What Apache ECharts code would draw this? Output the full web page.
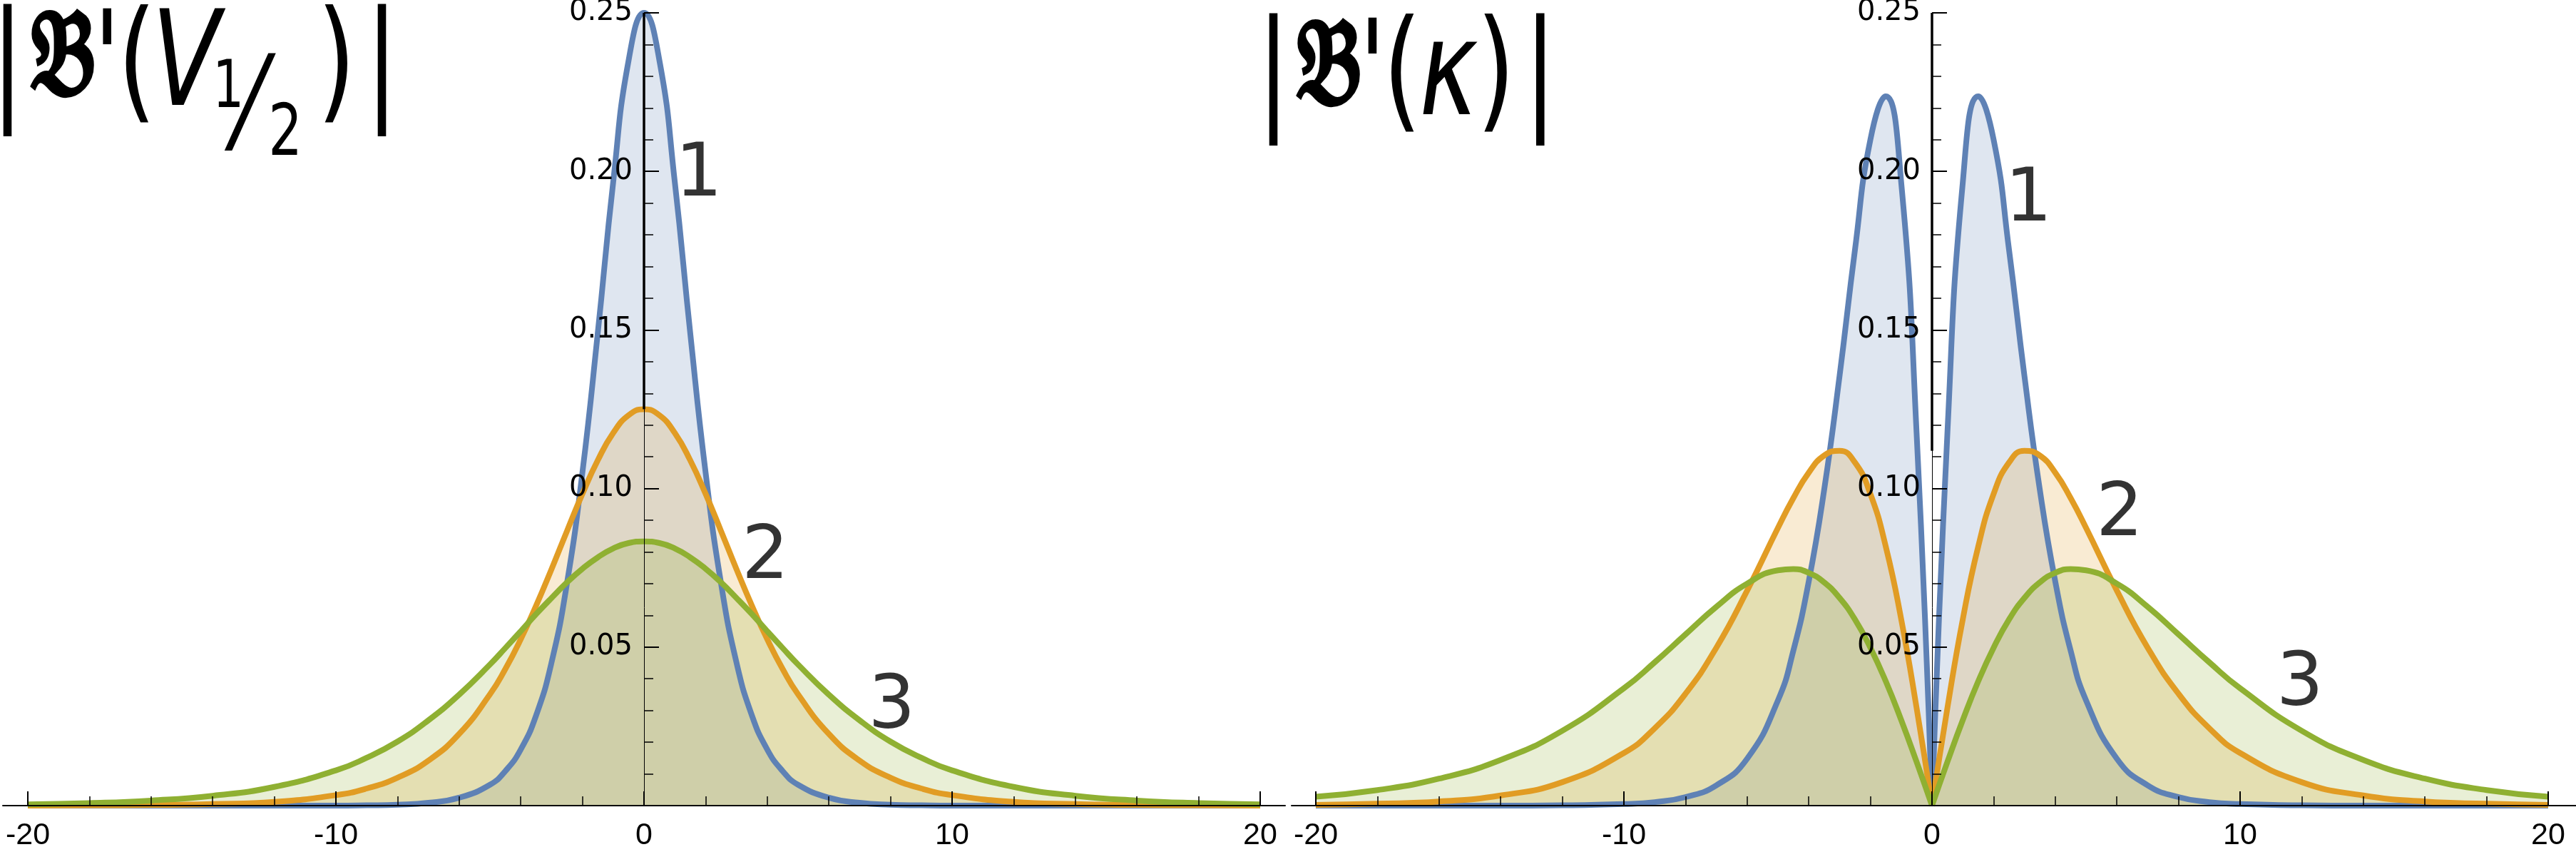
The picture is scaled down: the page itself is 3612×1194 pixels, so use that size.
<!DOCTYPE html>
<html><head><meta charset="utf-8">
<script src="https://cdn.jsdelivr.net/npm/echarts@6/dist/echarts.min.js"></script>
<style>html,body{margin:0;padding:0;background:#fff}#c{width:3612px;height:1194px}</style>
</head><body><div id="c"></div>
<script>
// ---- data ----
const xs = [-20,-18,-16,-14,-12,-10,-9,-8,-7,-6,-5,-4.5,-4,-3.5,-3,-2.5,-2,-1.5,-1,-0.5,0,0.5,1,1.5,2,2.5,3,3.5,4,4.5,5,6,7,8,9,10,12,14,16,18,20];

// left panel |B'(V1/2)|
const blueL = [0,0,0,0,0,0,0.0001,0.0003,0.0009,0.0025,0.0066,0.0109,0.0177,0.0285,0.0452,0.0701,0.1050,0.1491,0.1966,0.2350,0.2500,0.2350,0.1966,0.1491,0.1050,0.0701,0.0452,0.0285,0.0177,0.0109,0.0066,0.0025,0.0009,0.0003,0.0001,0,0,0,0,0,0];
const orangeL = [0.0000,0.0001,0.0002,0.0005,0.0012,0.0033,0.0054,0.0088,0.0142,0.0226,0.0351,0.0431,0.0525,0.0631,0.0746,0.0866,0.0983,0.1089,0.1175,0.1231,0.1250,0.1231,0.1175,0.1089,0.0983,0.0866,0.0746,0.0631,0.0525,0.0431,0.0351,0.0226,0.0142,0.0088,0.0054,0.0033,0.0012,0.0005,0.0002,0.0001,0.0000];
const greenL = [0.0004,0.0008,0.0016,0.0031,0.0059,0.0111,0.0151,0.0202,0.0269,0.0350,0.0445,0.0497,0.0550,0.0604,0.0655,0.0704,0.0747,0.0783,0.0811,0.0828,0.0833,0.0828,0.0811,0.0783,0.0747,0.0704,0.0655,0.0604,0.0550,0.0497,0.0445,0.0350,0.0269,0.0202,0.0151,0.0111,0.0059,0.0031,0.0016,0.0008,0.0004];

// right panel |B'(kappa)|
const blueR = [0,0,0,0,0.0001,0.0005,0.0011,0.0027,0.0064,0.0148,0.0332,0.0489,0.0707,0.0996,0.1355,0.1753,0.2100,0.2237,0.1966,0.1175,0,0.1175,0.1966,0.2237,0.2100,0.1753,0.1355,0.0996,0.0707,0.0489,0.0332,0.0148,0.0064,0.0027,0.0011,0.0005,0.0001,0,0,0,0];
const orangeR = [0.0002,0.0006,0.0013,0.0032,0.0074,0.0166,0.0244,0.0353,0.0498,0.0678,0.0876,0.0970,0.1050,0.1104,0.1119,0.1082,0.0983,0.0817,0.0588,0.0308,0,0.0308,0.0588,0.0817,0.0983,0.1082,0.1119,0.1104,0.1050,0.0970,0.0876,0.0678,0.0498,0.0353,0.0244,0.0166,0.0074,0.0032,0.0013,0.0006,0.0002];
const greenR = [0.0028,0.0049,0.0085,0.0144,0.0236,0.0370,0.0452,0.0540,0.0627,0.0700,0.0742,0.0746,0.0734,0.0704,0.0655,0.0587,0.0498,0.0392,0.0270,0.0138,0,0.0138,0.0270,0.0392,0.0498,0.0587,0.0655,0.0704,0.0734,0.0746,0.0742,0.0700,0.0627,0.0540,0.0452,0.0370,0.0236,0.0144,0.0085,0.0049,0.0028];

// axes
const xRange = [-20, 20];
const xTickStep = 10;
const yRange = [0, 0.25];
const yTickStep = 0.05;
const yTickLabels = ['0.05','0.10','0.15','0.20','0.25'];

// curve annotations (data coordinates)
const curveNames = ['1','2','3'];
const annotLeftX = [1.78, 3.94, 8.04];
const annotLeftY = [0.1984, 0.0779, 0.0306];
const annotRightX = [3.13, 6.09, 11.94];
const annotRightY = [0.1906, 0.0914, 0.0378];

// ---- styles ----
const COLORS = ['#5E81B5', '#E19C24', '#8FB032'];
const LINE_W = 8;

function pts(ys, from, to) {
  const out = [];
  for (let i = from; i <= to; i++) out.push([xs[i], ys[i]]);
  return out;
}
const zeroIdx = xs.indexOf(0);
const lastIdx = xs.length - 1;

const series = [];
function addCurve(ys, color, gi, split) {
  const parts = split ? [[0, zeroIdx], [zeroIdx, lastIdx]] : [[0, lastIdx]];
  parts.forEach(([a, b]) => {
    series.push({type:'line', xAxisIndex:gi, yAxisIndex:gi, data:pts(ys, a, b), smooth:0.5, symbol:'none',
      silent:true, z:2, lineStyle:{width:0, opacity:0}, areaStyle:{color:color, opacity:0.2}});
  });
  parts.forEach(([a, b]) => {
    series.push({type:'line', xAxisIndex:gi, yAxisIndex:gi, data:pts(ys, a, b), smooth:0.5, symbol:'none',
      silent:true, z:4, lineStyle:{width:LINE_W, color:color, cap:'butt', join:'round'}});
  });
}
[blueL, orangeL, greenL].forEach((ys, k) => addCurve(ys, COLORS[k], 0, false));
[blueR, orangeR, greenR].forEach((ys, k) => addCurve(ys, COLORS[k], 1, true));

// thick part of the vertical axis (above the orange peak)
function thickAxis(gi, ys) {
  series.push({type:'line', xAxisIndex:gi, yAxisIndex:gi, data:[], silent:true, z:5,
    markLine:{silent:true, symbol:['none','none'], label:{show:false},
      lineStyle:{color:'#000', width:3.5, type:'solid'},
      data:[[{coord:[0, Math.max(...ys)]}, {coord:[0, yRange[1]]}]]}});
}
thickAxis(0, orangeL);
thickAxis(1, orangeR);

// curve number annotations
function annot(gi, X, Y) {
  series.push({type:'scatter', xAxisIndex:gi, yAxisIndex:gi, z:6, silent:true,
    symbolSize:1, itemStyle:{color:'rgba(0,0,0,0)'},
    data: X.map((x, i) => [x, Y[i], curveNames[i]]),
    label:{show:true, position:'inside', formatter:p => p.data[2],
      fontFamily:'DejaVu Sans', fontSize:104, color:'#000', textBorderWidth:0}});
}
annot(0, annotLeftX, annotLeftY);
annot(1, annotRightX, annotRightY);

const GRID_TOP = 18, GRID_H = 1111;
const grids = [
  {left:39, width:1728},     // 0 left panel plot
  {left:1845, width:1728},   // 1 right panel plot
  {left:4, width:1798},      // 2 left horizontal axis line
  {left:1811, width:1801},   // 3 right horizontal axis line
  {left:903, width:864},     // 4 left vertical axis (at x = 0)
  {left:2709, width:864}     // 5 right vertical axis (at x = 0)
].map(g => Object.assign(g, {top:GRID_TOP, height:GRID_H, containLabel:false, outerBoundsMode:'none'}));

function mainX(gi) {
  return {gridIndex:gi, type:'value', min:xRange[0], max:xRange[1], interval:xTickStep, z:10,
    axisLine:{show:false, onZero:false},
    axisTick:{show:true, inside:true, length:20, lineStyle:{color:'#000', width:2}},
    minorTick:{show:true, splitNumber:5, length:13, lineStyle:{color:'#000', width:1.5}},
    splitLine:{show:false}, minorSplitLine:{show:false},
    axisLabel:{show:true, fontFamily:'Liberation Sans', fontSize:43, color:'#000', margin:21}};
}
function scaleY(gi) {
  return {gridIndex:gi, type:'value', min:yRange[0], max:yRange[1], show:false, splitLine:{show:false}};
}
function visibleY(gi) {
  return {gridIndex:gi, type:'value', min:yRange[0], max:yRange[1], interval:yTickStep, z:10,
    position:'left',
    axisLine:{show:true, onZero:false, lineStyle:{color:'#000', width:1}},
    axisTick:{show:true, inside:true, length:21, lineStyle:{color:'#000', width:2}},
    minorTick:{show:true, splitNumber:5, length:13, lineStyle:{color:'#000', width:1.5}},
    splitLine:{show:false}, minorSplitLine:{show:false},
    axisLabel:{show:true, fontFamily:'DejaVu Sans', fontSize:40, color:'#000', margin:16,
      formatter: v => { const i = Math.round(v / yTickStep) - 1; return i >= 0 ? yTickLabels[i] : ''; }}};
}
function lineOnlyX(gi) {
  return {gridIndex:gi, type:'value', min:0, max:1, z:9,
    axisLine:{show:true, onZero:false, lineStyle:{color:'#000', width:2}},
    axisTick:{show:false}, axisLabel:{show:false}, splitLine:{show:false}};
}
function hiddenX(gi) {
  return {gridIndex:gi, type:'value', min:0, max:1, show:false, splitLine:{show:false}};
}
function hiddenY(gi) {
  return {gridIndex:gi, type:'value', min:0, max:1, show:false, splitLine:{show:false}};
}

// ---- titles (rich text, squeezed horizontally) ----
const FONT = "'DejaVu Sans'";
const TSIZE = 186;
const TSCALE = 0.75;
function tok(extra) { return Object.assign({fontFamily:FONT, fontSize:TSIZE, lineHeight:TSIZE, fill:'#000'}, extra); }
const frakFont = "'DejaVu Serif', 'DejaVu Sans', 'Noto Sans', serif";
const frakTok = {width:117, fontFamily:frakFont, fontSize:168, fontWeight:'bold',
  stroke:'#000', lineWidth:3, padding:[0,0,22,0]};

const titleLeft = {
  type:'text', x:-13, y:6, scaleX:TSCALE, z:20, silent:true,
  style:{
    text:"{b||}{f|𝔅}{q|'}{p|(}{v|V}{n|1}{s|⁄}{d|2}{r|)}{c||}",
    align:'left', verticalAlign:'top', lineHeight:TSIZE,
    rich:{
      b: tok({width:75}),
      f: tok(frakTok),
      q: tok({width:45}),
      p: tok({width:64}),
      v: tok({width:114, fontStyle:'italic'}),
      n: tok({width:55, fontSize:92, padding:[55,0,0,0]}),
      s: tok({width:49, fontSize:180, padding:[125,0,0,0]}),
      d: tok({width:91, fontSize:100, padding:[185,0,0,0]}),
      r: tok({width:90}),
      c: tok({width:63})
    }
  }
};
const titleRight = {
  type:'text', x:1762, y:19, scaleX:TSCALE, z:20, silent:true,
  style:{
    text:"{b||}{f|𝔅}{q|'}{p|(}{k|κ}{r|)}{c||}",
    align:'left', verticalAlign:'top', lineHeight:TSIZE,
    rich:{
      b: tok({width:74}),
      f: tok(frakTok),
      q: tok({width:45}),
      p: tok({width:68}),
      k: tok({width:107, fontStyle:'italic'}),
      r: tok({width:88}),
      c: tok({width:63})
    }
  }
};

const chart = echarts.init(document.getElementById('c'), null, {renderer:'canvas'});
chart.setOption({
  animation:false,
  backgroundColor:'#ffffff',
  grid: grids,
  xAxis: [mainX(0), mainX(1), lineOnlyX(2), lineOnlyX(3), hiddenX(4), hiddenX(5)],
  yAxis: [scaleY(0), scaleY(1), hiddenY(2), hiddenY(3), visibleY(4), visibleY(5)],
  series: series,
  graphic: [titleLeft, titleRight]
});
</script>
</body></html>
